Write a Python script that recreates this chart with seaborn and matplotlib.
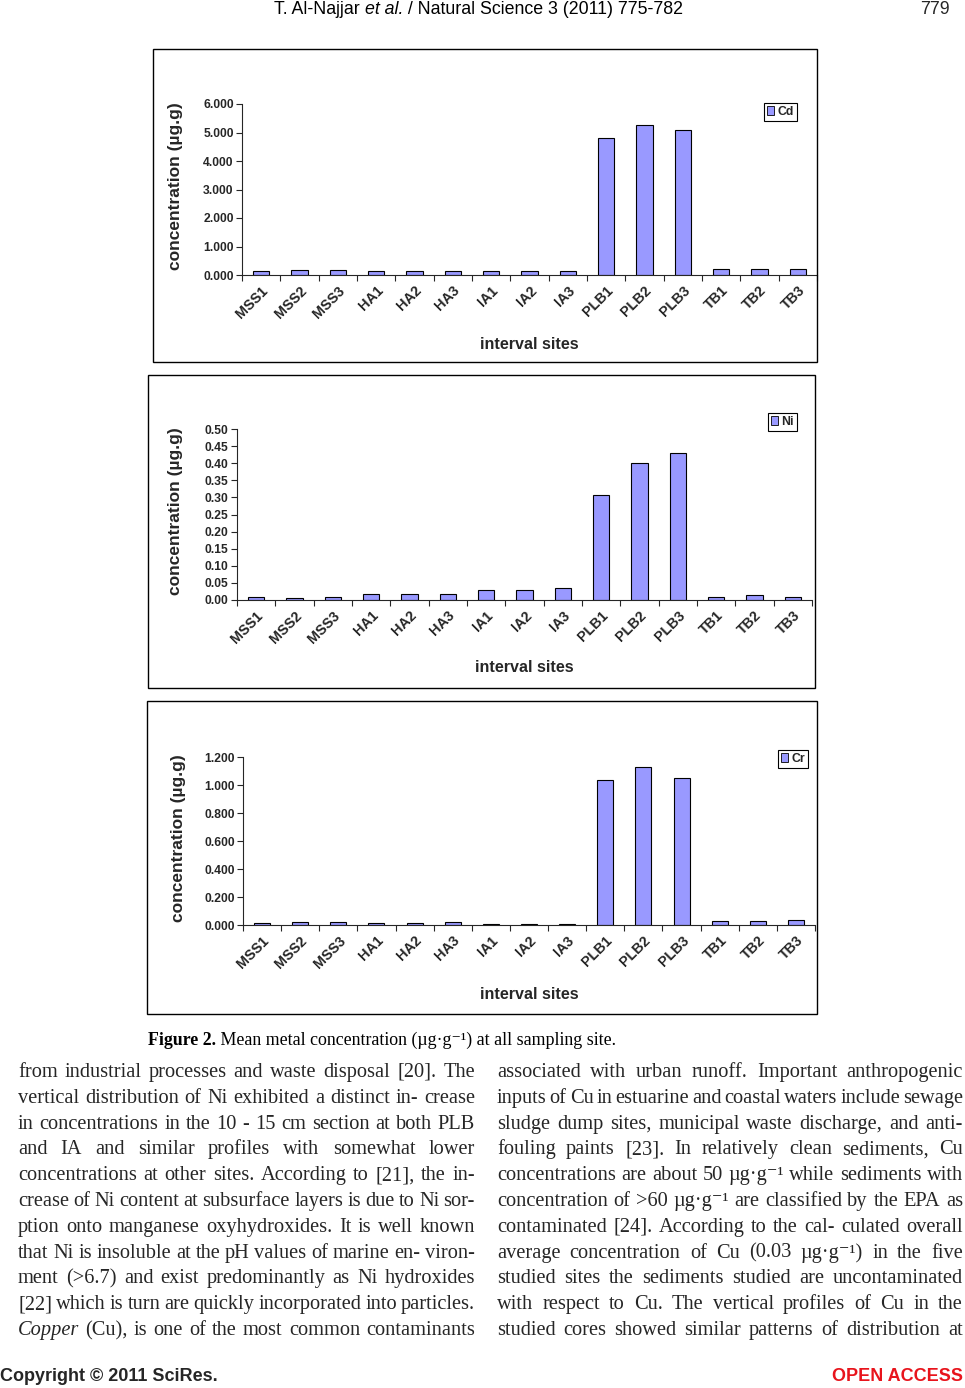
import matplotlib
matplotlib.use('Agg')
import matplotlib.pyplot as plt
import seaborn as sns
import numpy as np
import pandas as pd
from matplotlib.patches import Rectangle, Patch
from matplotlib.ticker import FormatStrFormatter, MultipleLocator

# ---------------- data ----------------
sites = ["MSS1", "MSS2", "MSS3", "HA1", "HA2", "HA3", "IA1", "IA2", "IA3",
         "PLB1", "PLB2", "PLB3", "TB1", "TB2", "TB3"]
cd = [0.14, 0.175, 0.175, 0.14, 0.14, 0.14, 0.14, 0.14, 0.14,
      4.80, 5.25, 5.08, 0.20, 0.20, 0.20]
ni = [0.009, 0.006, 0.009, 0.018, 0.018, 0.018, 0.029, 0.029, 0.035,
      0.306, 0.400, 0.429, 0.009, 0.015, 0.009]
cr = [0.014, 0.022, 0.022, 0.014, 0.014, 0.022, 0.007, 0.007, 0.007,
      1.037, 1.128, 1.049, 0.029, 0.029, 0.036]
metals = ["Cd", "Ni", "Cr"]
y_max = [6.0, 0.5, 1.2]
y_step = [1.0, 0.05, 0.2]
y_fmt = ["%.3f", "%.2f", "%.3f"]
y_title = "concentration (µg.g)"
x_title = "interval sites"

header_parts = [("T. Al-Najjar ", "normal"), ("et al.", "italic"),
                (" / Natural Science 3 (2011) 775-782", "normal")]
page_no = "779"
footer_left = "Copyright © 2011 SciRes."
footer_right = "OPEN ACCESS"
caption_bold = "Figure 2."
caption_rest = " Mean metal concentration (µg·g⁻¹) at all sampling site."

left_col = [
    "from industrial processes and waste disposal [20]. The",
    "vertical distribution of Ni exhibited a distinct in- crease",
    "in concentrations in the 10 - 15 cm section at both PLB",
    "and IA and similar profiles with somewhat lower",
    "concentrations at other sites. According to [21], the in-",
    "crease of Ni content at subsurface layers is due to Ni sor-",
    "ption onto manganese oxyhydroxides. It is well known",
    "that Ni is insoluble at the pH values of marine en- viron-",
    "ment (>6.7) and exist predominantly as Ni hydroxides",
    "[22] which is turn are quickly incorporated into particles.",
    "*Copper (Cu), is one of the most common contaminants",
]
right_col = [
    "associated with urban runoff. Important anthropogenic",
    "inputs of Cu in estuarine and coastal waters include sewage",
    "sludge dump sites, municipal waste discharge, and anti-",
    "fouling paints [23]. In relatively clean sediments, Cu",
    "concentrations are about 50 µg·g⁻¹ while sediments with",
    "concentration of >60 µg·g⁻¹ are classified by the EPA as",
    "contaminated [24]. According to the cal- culated overall",
    "average concentration of Cu (0.03 µg·g⁻¹) in the five",
    "studied sites the sediments studied are uncontaminated",
    "with respect to Cu. The vertical profiles of Cu in the",
    "studied cores showed similar patterns of distribution at",
]

# ---------------- layout ----------------
sns.set_style("ticks")
plt.rcParams['font.family'] = ['Liberation Sans', 'DejaVu Sans']
W, H = 965, 1388
fig = plt.figure(figsize=(W / 100, H / 100), dpi=100)
fig.patch.set_facecolor('white')
renderer = fig.canvas.get_renderer()

BAR = '#9999FF'
frames = [(153, 49, 817, 362), (148, 375, 815, 688), (147, 701, 817, 1014)]
axes_px = [(242, 104, 817, 275), (237, 429, 812, 600), (243, 757, 815, 925)]
legend_px = [(797, 103), (797, 413), (808, 750)]
ylab_x = [183, 183, 186]
xlab_top = [337, 660, 987]
data = [cd, ni, cr]


def frac_rect(l, t, r, b):
    return [l / W, 1 - b / H, (r - l) / W, (b - t) / H]


for i in range(3):
    l, t, r, b = frames[i]
    fig.add_artist(Rectangle((l / W, 1 - b / H), (r - l) / W, (b - t) / H,
                             transform=fig.transFigure, fill=False,
                             edgecolor='black', lw=1.0))
    ax = fig.add_axes(frac_rect(*axes_px[i]))
    df = pd.DataFrame({"site": sites, "val": data[i]})
    sns.barplot(data=df, x="site", y="val", color=BAR, saturation=1,
                edgecolor='black', linewidth=0.8, width=0.42, ax=ax)
    ax.set_xlim(-0.5, 14.5)
    ax.set_ylim(0, y_max[i])
    ax.yaxis.set_major_locator(MultipleLocator(y_step[i]))
    ax.yaxis.set_major_formatter(FormatStrFormatter(y_fmt[i]))
    ax.set_xticks(range(len(sites)))
    ax.set_xticklabels(sites, rotation=45, ha='right', rotation_mode='anchor',
                       fontsize=10.3, fontweight='bold')
    ax.tick_params(axis='x', which='major', length=0, pad=6)
    ax.set_xticks(np.arange(-0.5, len(sites), 1), minor=True)
    ax.tick_params(axis='x', which='minor', length=4, width=0.8, direction='out')
    ax.tick_params(axis='y', length=4, width=0.8, labelsize=8.7, pad=2)
    for lab in ax.get_yticklabels():
        lab.set_fontweight('bold')
    sns.despine(ax=ax)
    for s in ['left', 'bottom']:
        ax.spines[s].set_linewidth(0.8)
    ax_w = axes_px[i][2] - axes_px[i][0]
    ax_h = axes_px[i][3] - axes_px[i][1]
    ax.set_ylabel(y_title, fontsize=12.5, fontweight='bold')
    ax.yaxis.set_label_coords((ylab_x[i] - axes_px[i][0]) / ax_w, 0.52)
    ax.set_xlabel(x_title, fontsize=11.6, fontweight='bold')
    ax.xaxis.set_label_coords(0.5, (axes_px[i][3] - xlab_top[i]) / ax_h)
    lx, ly = legend_px[i]
    leg = ax.legend(handles=[Patch(facecolor=BAR, edgecolor='black', lw=0.6,
                                   label=metals[i])],
                    loc='upper right', bbox_to_anchor=(lx / W, 1 - ly / H),
                    bbox_transform=fig.transFigure, frameon=True, fancybox=False,
                    edgecolor='black', framealpha=1, borderaxespad=0,
                    handlelength=0.55, handleheight=0.75, handletextpad=0.3,
                    borderpad=0.25, prop={'weight': 'bold', 'size': 8.8})
    leg.get_frame().set_linewidth(0.8)

# ---------------- text ----------------
SERIF = ['Liberation Serif', 'DejaVu Serif']
NARROW = ['Liberation Sans Narrow', 'Liberation Sans', 'DejaVu Sans']


def place_seq(parts, x0, yb, size, family, weight='normal', color='black'):
    x = x0
    for txt, style in parts:
        t = fig.text(x / W, 1 - yb / H, txt, fontsize=size, family=family,
                     style=style, weight=weight, color=color, va='baseline')
        x += t.get_window_extent(renderer).width
    return x


def split_words(line):
    out = []
    for w in line.split(' '):
        if w.startswith('*'):
            out.append((w[1:], 'italic'))
        else:
            out.append((w, 'normal'))
    return out


def word_widths(words, size):
    ws = []
    for w, st in words:
        t = fig.text(0, 0, w, fontsize=size, family=SERIF, style=st)
        ws.append(t.get_window_extent(renderer).width)
        t.remove()
    return ws


# pick a body font size so the tightest line still has small gaps
MIN_GAP = 3.0
cols = [(left_col, 18, 475), (right_col, 497, 963)]
best = 99
for lines, x0, x1 in cols:
    for line in lines:
        wds = split_words(line)
        s = sum(word_widths(wds, 10))
        size = (x1 - x0 - MIN_GAP * (len(wds) - 1)) / s * 10
        best = min(best, size)
body_size = best


def justify(line, x0, x1, yb, size):
    words = split_words(line)
    widths = word_widths(words, size)
    gap = (x1 - x0 - sum(widths)) / max(len(words) - 1, 1)
    x = x0
    for (w, st), wd in zip(words, widths):
        fig.text(x / W, 1 - yb / H, w, fontsize=size, family=SERIF,
                 style=st, va='baseline')
        x += wd + gap


for lines, x0, x1 in cols:
    for k, line in enumerate(lines):
        justify(line, x0, x1, 1077 + k * 25.8, body_size)

# caption
xc = place_seq([(caption_bold, 'normal')], 148, 1045, 12.9, SERIF, weight='bold')
place_seq([(caption_rest, 'normal')], xc, 1045, 12.9, SERIF)

# header
place_seq(header_parts, 274, 14, 12.8, NARROW)
fig.text(950 / W, 1 - 14 / H, page_no, fontsize=12.8, family=NARROW,
         ha='right', va='baseline')

# footer
fig.text(0 / W, 1 - 1381 / H, footer_left, fontsize=13, family=NARROW,
         weight='bold', va='baseline')
fig.text(963 / W, 1 - 1381 / H, footer_right, fontsize=13, family=NARROW,
         weight='bold', color='#e8141c', ha='right', va='baseline')

fig.savefig('out.png', dpi=100, facecolor='white')
